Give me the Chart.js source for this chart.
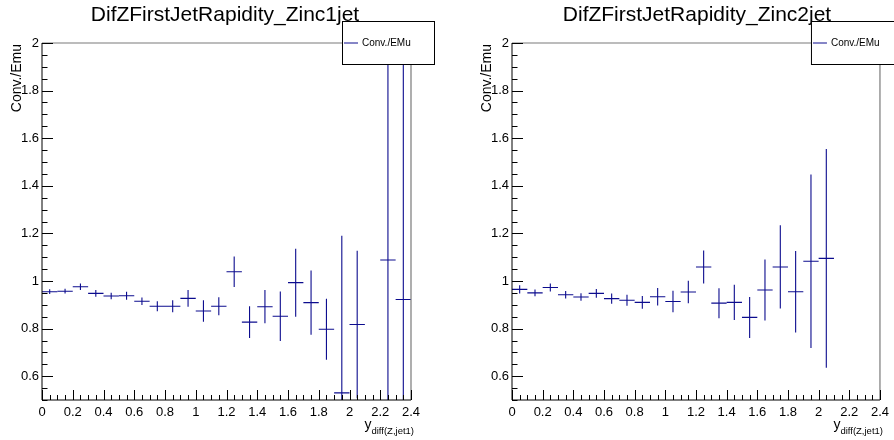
<!DOCTYPE html>
<html>
<head>
<meta charset="utf-8">
<script src="https://cdn.jsdelivr.net/npm/chart.js@4.4.0/dist/chart.umd.min.js"></script>
<style>
  html, body { margin: 0; padding: 0; background: #fff; }
  #wrap { position: relative; width: 894px; height: 440px; overflow: hidden; }
  canvas { position: absolute; top: 0; }
</style>
</head>
<body>
<div id="wrap">
  <canvas id="zinc1" width="447" height="440" style="left:0"></canvas>
  <canvas id="zinc2" width="447" height="440" style="left:447px"></canvas>
</div>
<script>
// bin centres (bin width 0.1)
const xCenters = [0.05, 0.15, 0.25, 0.35, 0.45, 0.55, 0.65, 0.75, 0.85, 0.95, 1.05, 1.15,
                  1.25, 1.35, 1.45, 1.55, 1.65, 1.75, 1.85, 1.95, 2.05, 2.15, 2.25, 2.35];

// Conv./EMu ratio, Zinc1jet
const zinc1Ratio = [0.955, 0.957, 0.976, 0.948, 0.937, 0.938, 0.915, 0.894, 0.894, 0.927, 0.874, 0.894,
                    1.039, 0.827, 0.892, 0.852, 0.993, 0.909, 0.797, 0.53, 0.817, null, 1.088, 0.922];
const zinc1Err   = [0.010, 0.010, 0.014, 0.014, 0.014, 0.017, 0.016, 0.021, 0.025, 0.035, 0.045, 0.038,
                    0.064, 0.067, 0.070, 0.104, 0.143, 0.135, 0.128, 0.66, 0.31, null, 1.2, 1.2];

// Conv./EMu ratio, Zinc2jet
const zinc2Ratio = [0.965, 0.950, 0.973, 0.942, 0.933, 0.948, 0.926, 0.919, 0.910, 0.934, 0.914, 0.954,
                    1.059, 0.907, 0.910, 0.847, 0.962, 1.059, 0.955, 1.083, 1.095];
const zinc2Err   = [0.017, 0.014, 0.017, 0.016, 0.016, 0.018, 0.022, 0.023, 0.027, 0.037, 0.045, 0.047,
                    0.069, 0.063, 0.074, 0.086, 0.128, 0.175, 0.171, 0.365, 0.46];

const xTickValues = [0, 0.2, 0.4, 0.6, 0.8, 1, 1.2, 1.4, 1.6, 1.8, 2, 2.2, 2.4];
const yTickValues = [0.6, 0.8, 1, 1.2, 1.4, 1.6, 1.8, 2];

const FONT = '"Liberation Sans", Arial, Helvetica, sans-serif';
const markColor = '#0c0c8e';
const binHalf = 0.05;

// ROOT-like frame, inward ticks, error crosses, titles and legend
const rootStyle = {
  id: 'rootStyle',
  afterDatasetsDraw(chart, args, opts) {
    const { ctx, chartArea: a, scales: { x, y } } = chart;

    // crosses: horizontal = bin width, vertical = error
    ctx.save();
    ctx.beginPath();
    ctx.rect(a.left, a.top, a.right - a.left, a.bottom - a.top);
    ctx.clip();
    ctx.strokeStyle = markColor;
    ctx.lineWidth = 1.1;
    chart.data.datasets[0].data.forEach((p) => {
      if (p.y == null) return;
      const px = x.getPixelForValue(p.x);
      const py = y.getPixelForValue(p.y);
      ctx.beginPath();
      ctx.moveTo(x.getPixelForValue(p.x - binHalf), py);
      ctx.lineTo(x.getPixelForValue(p.x + binHalf), py);
      ctx.moveTo(px, y.getPixelForValue(p.y + p.err));
      ctx.lineTo(px, y.getPixelForValue(p.y - p.err));
      ctx.stroke();
    });
    ctx.restore();

    // frame
    ctx.save();
    ctx.lineWidth = 1.2;
    ctx.strokeStyle = '#7a7a7a';
    ctx.beginPath();
    ctx.moveTo(a.left, a.top);
    ctx.lineTo(a.right, a.top);
    ctx.lineTo(a.right, a.bottom);
    ctx.stroke();

    ctx.strokeStyle = '#000';
    ctx.lineWidth = 1;
    ctx.beginPath();
    ctx.moveTo(a.left, a.top);
    ctx.lineTo(a.left, a.bottom);
    ctx.lineTo(a.right, a.bottom);
    // x ticks (inward), minor every 0.05
    for (let i = 0; i <= 48; i++) {
      const v = i * 0.05;
      const px = Math.round(x.getPixelForValue(v)) + 0.5;
      const len = i % 4 === 0 ? 10 : 5;
      ctx.moveTo(px, a.bottom);
      ctx.lineTo(px, a.bottom - len);
    }
    // y ticks
    for (let i = 0; i <= 30; i++) {
      const v = 0.5 + i * 0.05;
      const py = Math.round(y.getPixelForValue(v)) + 0.5;
      const len = (i % 4 === 2) ? 11 : 5.5;
      ctx.moveTo(a.left, py);
      ctx.lineTo(a.left + len, py);
    }
    ctx.stroke();
    ctx.restore();
  },
  afterDraw(chart, args, opts) {
    const { ctx, chartArea: a } = chart;
    ctx.save();
    ctx.fillStyle = '#000';

    // title
    ctx.font = '21px ' + FONT;
    ctx.textAlign = 'center';
    ctx.textBaseline = 'alphabetic';
    ctx.fillText(opts.title, opts.titleX, 21);

    // y-axis title
    ctx.save();
    ctx.translate(a.left - 25, a.top + 1);
    ctx.rotate(-Math.PI / 2);
    ctx.font = '14px ' + FONT;
    ctx.textAlign = 'right';
    ctx.textBaseline = 'middle';
    ctx.fillText('Conv./Emu', 0, 0);
    ctx.restore();

    // x-axis title y_{diff(Z,jet1)}
    ctx.font = '9.5px ' + FONT;
    ctx.textAlign = 'left';
    const sub = 'diff(Z,jet1)';
    const subW = ctx.measureText(sub).width;
    const subX = a.right + 3 - subW;
    ctx.fillText(sub, subX, 434);
    ctx.font = '14px ' + FONT;
    const yW = ctx.measureText('y').width;
    ctx.fillText('y', subX - yW, 429);

    // legend
    const lx = a.right - 69, ly = opts.legendTop, lw = 92, lh = 64 - opts.legendTop;
    ctx.fillStyle = '#fff';
    ctx.fillRect(lx, ly, lw, lh);
    ctx.strokeStyle = '#000';
    ctx.lineWidth = 1;
    ctx.strokeRect(lx + 0.5, ly + 0.5, lw, lh);
    ctx.strokeStyle = markColor;
    ctx.beginPath();
    ctx.moveTo(lx + 2, 43);
    ctx.lineTo(lx + 16, 43);
    ctx.stroke();
    ctx.fillStyle = '#000';
    ctx.font = '10px ' + FONT;
    ctx.textBaseline = 'middle';
    ctx.fillText('Conv./EMu', lx + 20, 43.5);
    ctx.restore();
  }
};

function makeChart(canvasId, ratio, err, cfg) {
  const ctx = document.getElementById(canvasId).getContext('2d');
  const points = ratio.map((r, i) => ({ x: xCenters[i], y: r, err: err[i] }));
  return new Chart(ctx, {
    type: 'scatter',
    data: {
      datasets: [{
        label: 'Conv./EMu',
        data: points,
        pointRadius: 0,
        showLine: false,
        borderColor: markColor,
        backgroundColor: markColor,
      }],
    },
    plugins: [rootStyle],
    options: {
      responsive: false,
      animation: false,
      events: [],
      layout: { padding: { top: 43, right: cfg.padRight, left: 0, bottom: 0 } },
      plugins: {
        legend: { display: false },
        tooltip: { enabled: false },
        rootStyle: { title: cfg.title, titleX: cfg.titleX, legendTop: cfg.legendTop },
      },
      scales: {
        x: {
          type: 'linear',
          min: 0,
          max: 2.4,
          afterBuildTicks: (s) => { s.ticks = xTickValues.map((v) => ({ value: v })); },
          afterFit: (s) => { s.height = 40; },
          grid: { display: false, drawTicks: false },
          border: { display: false },
          ticks: { padding: 5, color: '#000', autoSkip: false, maxRotation: 0,
                   font: { family: FONT, size: 13 },
                   callback: (v) => String(+v.toFixed(2)) },
        },
        y: {
          type: 'linear',
          min: 0.5,
          max: 2,
          afterBuildTicks: (s) => { s.ticks = yTickValues.map((v) => ({ value: v })); },
          afterFit: (s) => { s.width = cfg.axisLeft; },
          grid: { display: false, drawTicks: false },
          border: { display: false },
          ticks: { padding: 3, color: '#000', font: { family: FONT, size: 13 },
                   callback: (v) => String(+v.toFixed(2)) },
        },
      },
    },
  });
}

makeChart('zinc1', zinc1Ratio, zinc1Err,
  { title: 'DifZFirstJetRapidity_Zinc1jet', titleX: 225, axisLeft: 42, padRight: 36, legendTop: 21 });
makeChart('zinc2', zinc2Ratio, zinc2Err,
  { title: 'DifZFirstJetRapidity_Zinc2jet', titleX: 250, axisLeft: 65, padRight: 12, legendTop: 21 });
</script>
</body>
</html>
